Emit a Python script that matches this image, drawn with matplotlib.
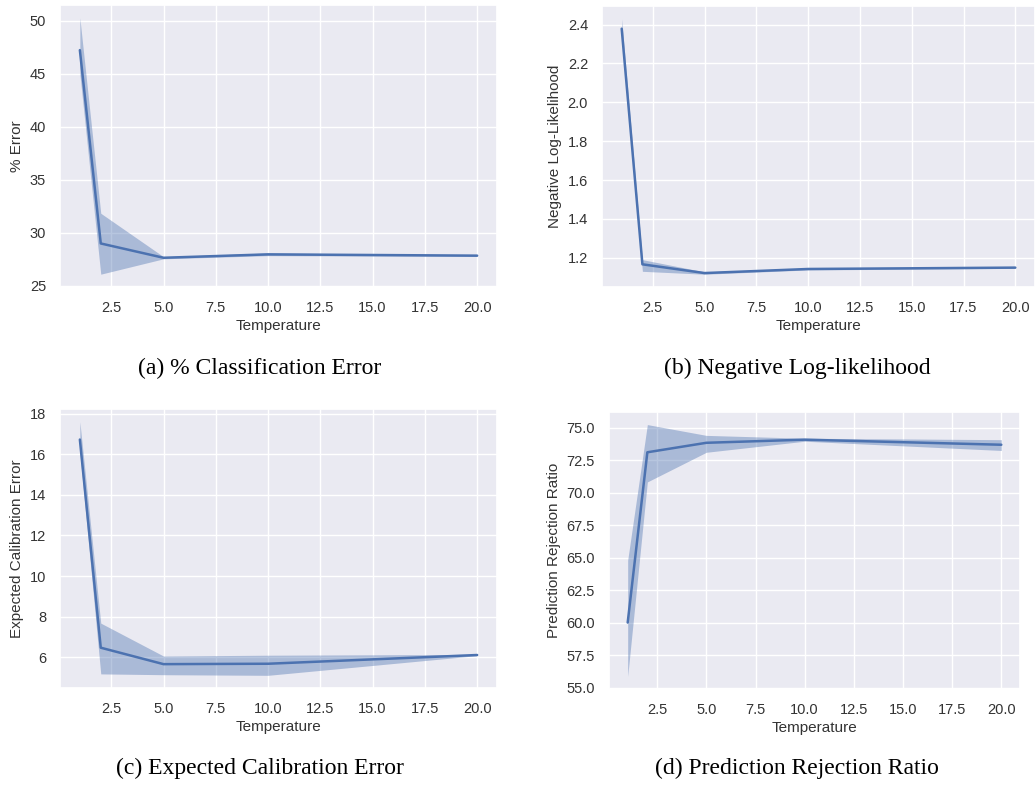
import numpy as np
import matplotlib
matplotlib.use("Agg")
import matplotlib.pyplot as plt
import seaborn as sns

sns.set_theme(style="darkgrid")
plt.rcParams['font.family'] = ['Liberation Sans', 'DejaVu Sans']

temperature = [1, 2, 5, 10, 20]

err_mean = [47.25, 29.0, 27.65, 27.97, 27.85]
err_lo = [45.0, 26.1, 27.55, 27.85, 27.78]
err_hi = [50.3, 31.85, 27.75, 28.1, 27.92]

nll_mean = [2.379, 1.166, 1.121, 1.142, 1.149]
nll_lo = [2.33, 1.13, 1.115, 1.137, 1.145]
nll_hi = [2.43, 1.19, 1.127, 1.147, 1.153]

ece_mean = [16.72, 6.47, 5.66, 5.68, 6.11]
ece_lo = [16.1, 5.18, 5.14, 5.11, 6.08]
ece_hi = [17.6, 7.68, 6.06, 6.10, 6.14]

prr_mean = [60.0, 73.1, 73.83, 74.07, 73.68]
prr_lo = [55.86, 70.82, 73.1, 73.95, 73.24]
prr_hi = [64.8, 75.23, 74.4, 74.18, 74.07]

xticks = [2.5, 5.0, 7.5, 10.0, 12.5, 15.0, 17.5, 20.0]

panels = [
    dict(mean=err_mean, lo=err_lo, hi=err_hi, ylabel="% Error",
         yticks=[25, 30, 35, 40, 45, 50], fmt="{:.0f}",
         box=(60, 5, 497, 287), caption="(a) % Classification Error", cap=(260, 368)),
    dict(mean=nll_mean, lo=nll_lo, hi=nll_hi, ylabel="Negative Log-Likelihood",
         yticks=[1.2, 1.4, 1.6, 1.8, 2.0, 2.2, 2.4], fmt="{:.1f}",
         box=(602, 6, 1035, 287), caption="(b) Negative Log-likelihood", cap=(797, 368)),
    dict(mean=ece_mean, lo=ece_lo, hi=ece_hi, ylabel="Expected Calibration Error",
         yticks=[6, 8, 10, 12, 14, 16, 18], fmt="{:.0f}",
         box=(60, 409, 497, 688), caption="(c) Expected Calibration Error", cap=(260, 768)),
    dict(mean=prr_mean, lo=prr_lo, hi=prr_hi, ylabel="Prediction Rejection Ratio",
         yticks=[55.0, 57.5, 60.0, 62.5, 65.0, 67.5, 70.0, 72.5, 75.0], fmt="{:.1f}",
         box=(609, 412, 1020, 689), caption="(d) Prediction Rejection Ratio", cap=(797, 768)),
]

W, H = 1036, 785
fig = plt.figure(figsize=(W / 100, H / 100), dpi=100)
fig.patch.set_facecolor("white")
color = "#4c72b0"

for p in panels:
    l, t, r, b = p["box"]
    ax = fig.add_axes([l / W, 1 - b / H, (r - l) / W, (b - t) / H])
    ax.fill_between(temperature, p["lo"], p["hi"], color=color, alpha=0.4, linewidth=0)
    ax.plot(temperature, p["mean"], color=color, linewidth=1.8)
    ax.set_xticks(xticks)
    ax.set_xticklabels(["{:.1f}".format(v) for v in xticks])
    ax.set_yticks(p["yticks"])
    ax.set_yticklabels([p["fmt"].format(v) for v in p["yticks"]])
    ax.tick_params(labelsize=10.5, colors="#333333", pad=4)
    ax.set_xlabel("Temperature", fontsize=11, color="#333333", labelpad=3)
    ax.set_ylabel(p["ylabel"], fontsize=11, color="#333333", labelpad=4)
    ax.margins(x=0.05, y=0.05)
    fig.text(p["cap"][0] / W, 1 - p["cap"][1] / H, p["caption"],
             ha="center", va="center", fontsize=17, family="Liberation Serif", color="black")

fig.savefig("out.png", dpi=100, facecolor="white")
